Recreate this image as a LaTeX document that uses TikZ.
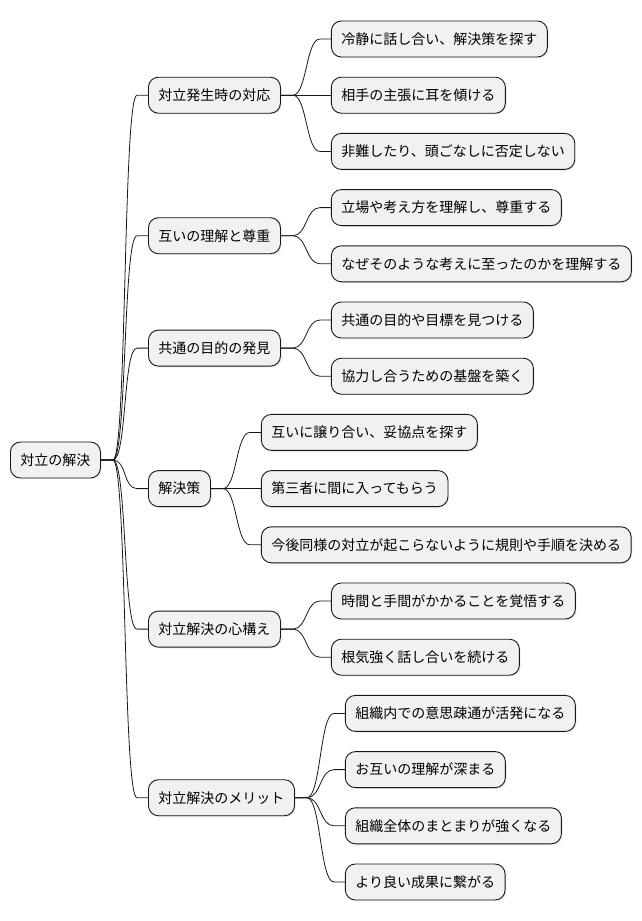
\documentclass[tikz,border=0pt]{standalone}
\usepackage{fontspec}
\setmainfont{Noto Sans CJK JP}
\usetikzlibrary{positioning,shadows}
\definecolor{boxfill}{HTML}{F1F1F1}
\definecolor{boxline}{HTML}{181818}

\begin{document}
\begin{tikzpicture}[x=1pt,y=-1pt,line cap=round,line join=round,
    topic/.style={draw=boxline,fill=boxfill,line width=.9pt,rounded corners=10pt,
      minimum height=36pt,inner xsep=10pt,inner ysep=0pt,anchor=west,
      font=\fontsize{14pt}{16pt}\selectfont,
      drop shadow={shadow xshift=1.2pt,shadow yshift=-1.2pt,opacity=.18}},
    link/.style={draw=boxline,line width=.8pt}]
    \useasboundingbox (0,0) rectangle (642,921);

    % Root and main branches.
    \node[topic] (root) at (10,460) {対立の解決};
    \node[topic] (a) at (148,95.2) {対立発生時の対応};
    \node[topic] (b) at (148,235.7) {互いの理解と尊重};
    \node[topic] (c) at (148,348.1) {共通の目的の発見};
    \node[topic] (d) at (148,488.6) {解決策};
    \node[topic] (e) at (148,629.1) {対立解決の心構え};
    \node[topic] (f) at (148,797.7) {対立解決のメリット};

    % Leaves, placed right of their branch.
    \node[topic,right=50pt of a.east,yshift=56.2pt] (a1) {冷静に話し合い、解決策を探す};
    \node[topic,right=50pt of a.east] (a2) {相手の主張に耳を傾ける};
    \node[topic,right=50pt of a.east,yshift=-56.2pt] (a3) {非難したり、頭ごなしに否定しない};
    \node[topic,right=50pt of b.east,yshift=28.1pt] (b1) {立場や考え方を理解し、尊重する};
    \node[topic,right=50pt of b.east,yshift=-28.1pt] (b2) {なぜそのような考えに至ったのかを理解する};
    \node[topic,right=50pt of c.east,yshift=28.1pt] (c1) {共通の目的や目標を見つける};
    \node[topic,right=50pt of c.east,yshift=-28.1pt] (c2) {協力し合うための基盤を築く};
    \node[topic,right=50pt of d.east,yshift=56.2pt] (d1) {互いに譲り合い、妥協点を探す};
    \node[topic,right=50pt of d.east] (d2) {第三者に間に入ってもらう};
    \node[topic,right=50pt of d.east,yshift=-56.2pt] (d3) {今後同様の対立が起こらないように規則や手順を決める};
    \node[topic,right=50pt of e.east,yshift=28.1pt] (e1) {時間と手間がかかることを覚悟する};
    \node[topic,right=50pt of e.east,yshift=-28.1pt] (e2) {根気強く話し合いを続ける};
    \node[topic,right=50pt of f.east,yshift=84.3pt] (f1) {組織内での意思疎通が活発になる};
    \node[topic,right=50pt of f.east,yshift=28.1pt] (f2) {お互いの理解が深まる};
    \node[topic,right=50pt of f.east,yshift=-28.1pt] (f3) {組織全体のまとまりが強くなる};
    \node[topic,right=50pt of f.east,yshift=-84.3pt] (f4) {より良い成果に繋がる};

    % Curved connectors.
    \foreach \p/\c in {root/a,root/b,root/c,root/d,root/e,root/f,
        a/a1,a/a2,a/a3,b/b1,b/b2,c/c1,c/c2,d/d1,d/d2,d/d3,
        e/e1,e/e2,f/f1,f/f2,f/f3,f/f4}
      \draw[link] (\p.east) -- ++(12,0)
        .. controls +(14,0) and +(-14,0) .. ([xshift=-11pt]\c.west) -- (\c.west);
  \end{tikzpicture}
\end{document}
